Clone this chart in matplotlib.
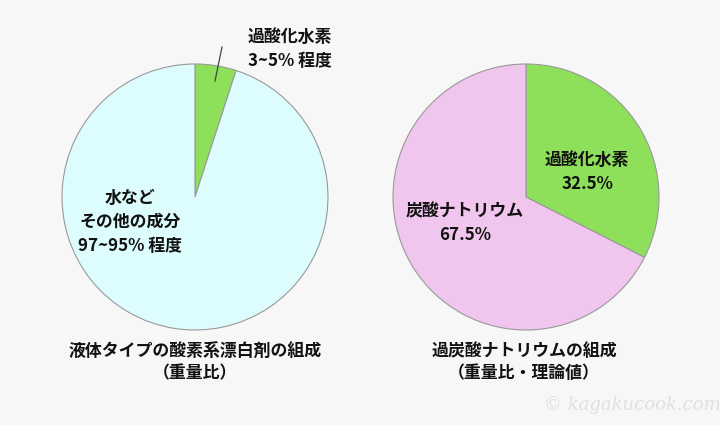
import matplotlib.pyplot as plt

plt.rcParams['font.family'] = ['Noto Sans CJK JP', 'DejaVu Sans']

# left pie: liquid oxygen bleach
left_labels = ['過酸化水素', '水など']
left_values = [5, 95]
left_colors = ['#8ee05a', '#dcfcfe']

# right pie: sodium percarbonate
right_labels = ['過酸化水素', '炭酸ナトリウム']
right_values = [32.5, 67.5]
right_colors = ['#8ee05a', '#f0c6ee']

bg = '#f7f7f7'
H = 425
fs = 12.2

fig = plt.figure(figsize=(7.2, 4.25), dpi=100, facecolor=bg)
ax = fig.add_axes([0, 0, 1, 1])

wp = dict(edgecolor='#999999', linewidth=0.8)
ax.pie(left_values, colors=left_colors, center=(195, H - 197), radius=133,
       startangle=90, counterclock=False, wedgeprops=wp, frame=True)
ax.pie(right_values, colors=right_colors, center=(526, H - 197), radius=133,
       startangle=90, counterclock=False, wedgeprops=wp, frame=True)
ax.set_xlim(0, 720)
ax.set_ylim(0, H)
ax.set_aspect('equal')
ax.axis('off')

tk = dict(fontsize=fs, fontweight='bold', color='#111111', ha='center', va='center')

# left pie labels
ax.plot([215, 222], [H - 81, H - 47], color='#444444', lw=0.9)
ax.text(248, H - 49, left_labels[0] + '\n3~5% 程度', fontsize=fs, fontweight='bold',
        color='#111111', ha='left', va='center', linespacing=1.4)
ax.text(130, H - 222, left_labels[1] + '\nその他の成分\n97~95% 程度', linespacing=1.4, **tk)

# right pie labels
ax.text(587, H - 172, right_labels[0] + '\n%.1f%%' % right_values[0], linespacing=1.4, **tk)
ax.text(465, H - 223, right_labels[1] + '\n%.1f%%' % right_values[1], linespacing=1.4, **tk)

# titles
ax.text(195, H - 362, '液体タイプの酸素系漂白剤の組成\n（重量比）', linespacing=1.35, **tk)
ax.text(524, H - 362, '過炭酸ナトリウムの組成\n（重量比・理論値）', linespacing=1.35, **tk)

# watermark
ax.text(632, H - 405, '© kagakucook.com', fontsize=13, family='DejaVu Serif',
        style='italic', color='#e0e0e0', ha='center', va='center')

fig.savefig('out.png', dpi=100, facecolor=bg)
